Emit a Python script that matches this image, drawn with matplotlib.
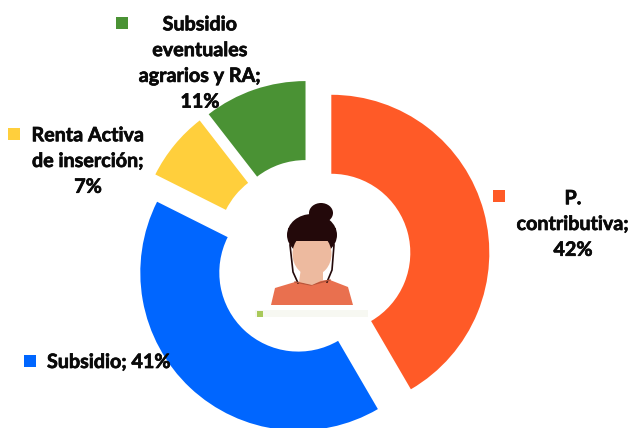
import matplotlib
matplotlib.use("Agg")
import matplotlib.pyplot as plt
import matplotlib.patheffects as pe
from matplotlib.patches import Ellipse, Polygon, Rectangle

# ------------------------------
# Data
# ------------------------------
labels = ["P.\ncontributiva;\n42%", "Subsidio; 41%", "Renta Activa\nde inserción;\n7%",
          "Subsidio\neventuales\nagrarios y RA;\n11%"]
values = [41.6, 40.8, 7.1, 10.5]
colors = ["#FF5A27", "#0066FF", "#FFCF3C", "#4A9234"]
explode = [20, 20, 20, 20]  # pie takes these in data units here

label_pos = [(573, 224), (109, 362), (88, 161), (200, 63)]
marker_pos = [(499, 196), (30, 361), (14, 134), (122, 23)]

W, H = 633, 428

plt.rcParams["font.family"] = ["Lato", "DejaVu Sans"]
fig = plt.figure(figsize=(W / 100, H / 100), dpi=100)
ax = fig.add_axes([0, 0, 1, 1])


def fy(py):
    # picture y (from the top) to axes y
    return H - py


# ------------------------------
# Donut
# ------------------------------
ax.pie(values, colors=colors, explode=explode, startangle=90, counterclock=False,
       center=(312, fy(258)), radius=158, normalize=True, frame=True,
       wedgeprops=dict(width=79, linewidth=0))

ax.set_xlim(0, W)
ax.set_ylim(0, H)
ax.set_aspect("equal")
ax.axis("off")

# ------------------------------
# Labels
# ------------------------------
for txt, (x, y), (mx, my), c in zip(labels, label_pos, marker_pos, colors):
    ax.text(x, fy(y), txt, ha="center", va="center", fontsize=14.2, fontweight="bold",
            color="#0A0A0A", linespacing=1.36, zorder=5,
            path_effects=[pe.withStroke(linewidth=0.5, foreground="#0A0A0A")])
    ax.add_patch(Rectangle((mx - 6, fy(my) - 6), 12, 12, color=c, linewidth=0, zorder=5))

# ------------------------------
# Woman icon in the hole
# ------------------------------
skin = "#EDBA9F"
hair = "#23090A"
shirt = "#E9704F"


def poly(pts, color, z):
    ax.add_patch(Polygon([(x, fy(y)) for x, y in pts], closed=True, color=color,
                         linewidth=0, zorder=z))


poly([(271, 305), (275, 288), (295, 282), (330, 280), (348, 287), (353, 305)], shirt, 3)
ax.plot([295, 311, 330], [fy(282), fy(285), fy(280)], color="#B8553A", lw=1, zorder=3.45)
poly([(301, 268), (323, 268), (323, 280), (312, 285), (299, 282)], skin, 3.5)
ax.add_patch(Ellipse((321, fy(213)), 24, 20, color=hair, linewidth=0, zorder=3))
ax.add_patch(Ellipse((312, fy(235)), 50, 42, color=hair, linewidth=0, zorder=3))
ax.add_patch(Ellipse((312, fy(254)), 39, 44, color=skin, linewidth=0, zorder=3.6))
poly([(288, 228), (336, 228), (332, 241), (292, 241)], hair, 3.7)
ax.plot([290, 293, 298], [fy(245), fy(272), fy(283)], color=hair, lw=1.2, zorder=3.4)
ax.plot([334, 332, 327], [fy(245), fy(270), fy(282)], color=hair, lw=1.2, zorder=3.4)
ax.add_patch(Rectangle((255, fy(317)), 113, 7, color="#F7F8F2", linewidth=0, zorder=3))
ax.add_patch(Rectangle((257, fy(317)), 6, 6, color="#A9C95A", linewidth=0, zorder=3.2))

fig.savefig("out.png", dpi=100, facecolor="white")
